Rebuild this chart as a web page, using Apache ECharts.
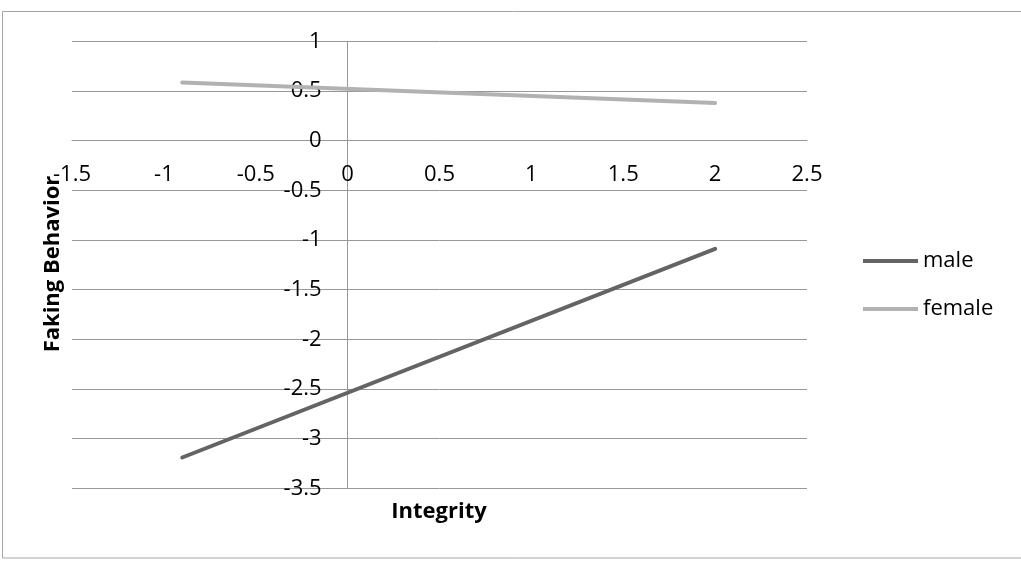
<!DOCTYPE html>
<html>
<head>
<meta charset="utf-8">
<script src="https://cdn.jsdelivr.net/npm/echarts@6/dist/echarts.min.js"></script>
<style>
html,body{margin:0;padding:0;background:#fff;}
#chart{width:1021px;height:562px;}
</style>
</head>
<body>
<div id="chart"></div>
<script>
const integrity = [-0.9, 2];
const male = [-3.19, -1.09];
const female = [0.585, 0.38];
const seriesNames = ['male', 'female'];
const xTitle = 'Integrity';
const yTitle = 'Faking Behavior';
const xRange = [-1.5, 2.5];
const yRange = [-3.5, 1];
const step = 0.5;

const chart = echarts.init(document.getElementById('chart'), null, {renderer: 'canvas'});
const font = '"Open Sans", Lato, sans-serif';
const toPairs = (xs, ys) => xs.map((x, i) => [x, ys[i]]);
const gridLine = '#989898';
const labelStyle = {color: '#000', fontSize: 22, fontFamily: font, showMinLabel: true, showMaxLabel: true};

// main plot area
const L = 72, R = 214, T = 41.3, B = 73.7;
const W = 1021 - L - R, H = 562 - T - B;
const zeroX = L + W * (0 - xRange[0]) / (xRange[1] - xRange[0]);
const zeroY = T + H * (yRange[1] - 0) / (yRange[1] - yRange[0]);

chart.setOption({
  animation: false,
  backgroundColor: '#ffffff',
  textStyle: {fontFamily: font},
  grid: [
    {left: L, right: R, top: T, bottom: B},
    // helper grid whose bottom edge is the y=0 line: carries x labels
    {left: L, width: W, top: T, height: zeroY - T},
    // helper grid whose left edge is the x=0 line: carries y labels
    {left: zeroX, width: L + W - zeroX, top: T, bottom: B}
  ],
  xAxis: [
    {gridIndex: 0, type: 'value', min: xRange[0], max: xRange[1], interval: step,
     axisLine: {show: false}, axisTick: {show: false}, splitLine: {show: false}, axisLabel: {show: false}},
    {gridIndex: 1, type: 'value', min: xRange[0], max: xRange[1], interval: step, position: 'bottom',
     axisLine: {show: true, onZero: false, lineStyle: {color: gridLine, width: 1}}, axisTick: {show: false}, splitLine: {show: false},
     axisLabel: Object.assign({margin: 23}, labelStyle)},
    {gridIndex: 2, type: 'value', min: 0, max: xRange[1], show: false}
  ],
  yAxis: [
    {gridIndex: 0, type: 'value', min: yRange[0], max: yRange[1], interval: step,
     axisLine: {show: false}, axisTick: {show: false}, axisLabel: {show: false},
     splitLine: {show: true, lineStyle: {color: gridLine, width: 1}}},
    {gridIndex: 1, type: 'value', min: 0, max: yRange[1], show: false},
    {gridIndex: 2, type: 'value', min: yRange[0], max: yRange[1], interval: step, position: 'left',
     axisLine: {show: true, onZero: false, lineStyle: {color: gridLine, width: 1}}, axisTick: {show: false}, splitLine: {show: false},
     axisLabel: Object.assign({margin: 26}, labelStyle)}
  ],
  legend: {
    orient: 'vertical', left: 863, top: 250, padding: 0,
    itemWidth: 55, itemHeight: 4, itemGap: 26,
    icon: 'rect',
    textStyle: {color: '#000', fontSize: 22, fontFamily: font, lineHeight: 22},
    data: seriesNames
  },
  graphic: [
    {type: 'rect', silent: true, z: -1, shape: {x: 2.5, y: 11.5, width: 1030, height: 546.5},
     style: {fill: 'none', stroke: '#a6a6a6', lineWidth: 1}},
    {type: 'text', x: 439, y: 512, style: {text: xTitle, font: 'bold 22px ' + font, fill: '#000', textAlign: 'center', textVerticalAlign: 'middle'}},
    {type: 'text', x: 53, y: 264, rotation: Math.PI / 2, style: {text: yTitle, font: 'bold 22px ' + font, fill: '#000', textAlign: 'center', textVerticalAlign: 'middle'}}
  ],
  series: [
    {name: seriesNames[0], type: 'line', xAxisIndex: 0, yAxisIndex: 0, data: toPairs(integrity, male), symbol: 'none',
     lineStyle: {color: '#646464', width: 4, cap: 'round'}, itemStyle: {color: '#646464'}},
    {name: seriesNames[1], type: 'line', xAxisIndex: 0, yAxisIndex: 0, data: toPairs(integrity, female), symbol: 'none',
     lineStyle: {color: '#b2b2b2', width: 4, cap: 'round'}, itemStyle: {color: '#b2b2b2'}}
  ]
});
</script>
</body>
</html>
